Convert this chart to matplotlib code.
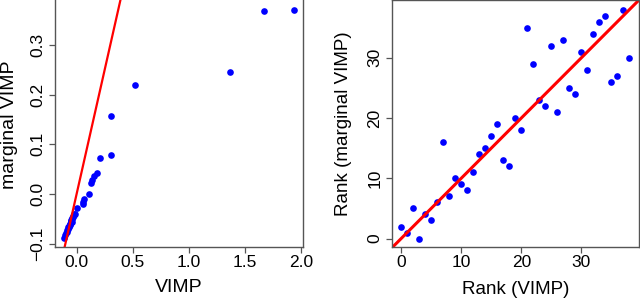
import numpy as np
import matplotlib.pyplot as plt

plt.rcParams['font.family'] = ['Liberation Sans', 'DejaVu Sans']

# left panel: VIMP vs marginal VIMP
vimp = [1.937, 1.676, 1.369, 0.518, 0.304,
        0.304, 0.205, 0.184, 0.154, 0.137, 0.125, 0.110, 0.065, 0.061, 0.056,
        0.0,
        -0.110, -0.101, -0.095, -0.089, -0.083, -0.077, -0.071, -0.068,
        -0.0625, -0.0595, -0.0536, -0.0506, -0.0476, -0.0446, -0.0417,
        -0.0357, -0.0327, -0.0268, -0.0208, -0.0149, -0.0446, -0.0565, -0.074]
marg_vimp = [0.3717, 0.369, 0.2456, 0.220, 0.157,
             0.0776, 0.073, 0.0428, 0.037, 0.029, 0.023, 0.0006, -0.011, -0.017, -0.021,
             -0.0276,
             -0.0886, -0.0832, -0.0792, -0.0759, -0.0725, -0.0698, -0.0671, -0.0645,
             -0.0618, -0.0598, -0.0571, -0.0551, -0.0531, -0.0511, -0.049,
             -0.0464, -0.0443, -0.043, -0.041, -0.0396, -0.0564, -0.061, -0.0665]

# right panel: ranks
rank_vimp = list(range(39))
rank_marg = [2, 1, 5, 0, 4, 3, 6, 16, 7, 10, 9, 8, 11, 14, 15, 17, 19, 13, 12, 20,
             18, 35, 29, 23, 22, 32, 21, 33, 25, 24, 31, 28, 34, 36, 37, 26, 27, 38, 30]

fig = plt.figure(figsize=(6.4, 3.0), dpi=100)
ax1 = fig.add_axes([55/640, 53/300, 248/640, 249/300])
ax2 = fig.add_axes([392/640, 53/300, 247/640, 247/300])


def r_style(ax):
    for s in ax.spines.values():
        s.set_color('#555555')
        s.set_linewidth(1.0)
    ax.tick_params(length=4, width=0.9, color='#555555', labelsize=12.5, pad=1.5)
    ax.tick_params(axis='y', labelrotation=90, pad=3)
    for lab in ax.get_yticklabels():
        lab.set_va('center')


# left
ax1.plot(vimp, marg_vimp, 'o', color='blue', markersize=4.8, markeredgewidth=0)
ax1.axline((0, 0), slope=1, color='red', lw=1.6)
ax1.set_xlim(-0.193, 2.02)
ax1.set_ylim(-0.107, 0.395)
ax1.set_xticks([0.0, 0.5, 1.0, 1.5, 2.0])
ax1.set_yticks([-0.1, 0.0, 0.1, 0.2, 0.3])
ax1.set_xticklabels(['0.0', '0.5', '1.0', '1.5', '2.0'])
ax1.set_yticklabels(['\u22120.1', '0.0', '0.1', '0.2', '0.3'])
r_style(ax1)
ax1.set_xlabel('VIMP', fontsize=14, va='center')
ax1.set_ylabel('marginal VIMP', fontsize=14, va='center')
ax1.xaxis.set_label_coords(0.5, -0.162)
ax1.yaxis.set_label_coords(-0.185, 0.49)

# right
ax2.plot(rank_vimp, rank_marg, 'o', color='blue', markersize=4.8, markeredgewidth=0)
ax2.axline((0, 0), slope=1, color='red', lw=2.2)
ax2.set_xlim(-1.52, 39.6)
ax2.set_ylim(-1.4, 39.6)
ax2.set_xticks([0, 10, 20, 30])
ax2.set_yticks([0, 10, 20, 30])
r_style(ax2)
ax2.set_xlabel('Rank (VIMP)', fontsize=13.5, va='center')
ax2.set_ylabel('Rank (marginal VIMP)', fontsize=13.5, va='center')
ax2.xaxis.set_label_coords(0.5, -0.174)
ax2.yaxis.set_label_coords(-0.198, 0.5)

fig.savefig('out.png', dpi=100)
